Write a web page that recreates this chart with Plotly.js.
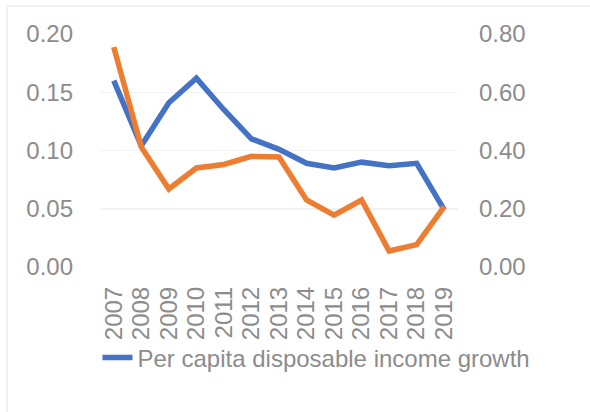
<!DOCTYPE html>
<html>
<head>
<meta charset="utf-8">
<script src="https://cdn.plot.ly/plotly-3.0.1.min.js"></script>
<style>html,body{margin:0;padding:0;background:#fff;}#chart{width:590px;height:412px;}</style>
</head>
<body>
<div id="chart"></div>
<script>
const years = ['2007','2008','2009','2010','2011','2012','2013','2014','2015','2016','2017','2018','2019'];
const incomeGrowth = [0.160, 0.104, 0.141, 0.162, 0.135, 0.110, 0.101, 0.089, 0.085, 0.090, 0.087, 0.089, 0.049];
const secondSeries = [0.755, 0.412, 0.268, 0.340, 0.352, 0.380, 0.378, 0.230, 0.178, 0.230, 0.055, 0.077, 0.207];
const leftTicks = [0, 0.05, 0.10, 0.15, 0.20];
const rightTicks = [0, 0.2, 0.4, 0.6, 0.8];

const gray = '#8c8c8c';
const tickFont = {family: 'Liberation Sans, Arial, sans-serif', size: 24, color: gray};

const traces = [
  {x: years, y: incomeGrowth, type: 'scatter', mode: 'lines', name: 'Per capita disposable income growth',
   line: {color: '#4472C4', width: 5.5}, yaxis: 'y'},
  {x: years, y: secondSeries, type: 'scatter', mode: 'lines', name: 'Second series', showlegend: false,
   line: {color: '#ED7D31', width: 5.5}, yaxis: 'y2'}
];

const layout = {
  width: 590, height: 412,
  margin: {l: 100, r: 132, t: 34, b: 145},
  paper_bgcolor: '#fff', plot_bgcolor: '#fff',
  showlegend: true,
  xaxis: {type: 'category', range: [-0.5, years.length - 0.5], tickmode: 'array', tickvals: years,
          ticktext: years, tickfont: tickFont, tickangle: -90,
          showgrid: false, zeroline: false, showline: false, ticks: '', ticklabelstandoff: 14},
  yaxis: {range: [0, 0.2], tickvals: leftTicks, tickformat: '.2f', tickfont: tickFont,
          gridcolor: '#f2f2f2', gridwidth: 1.5, zeroline: false, showline: false, ticks: '',
          ticklabelstandoff: 26},
  yaxis2: {range: [0, 0.8], tickvals: rightTicks, tickformat: '.2f', tickfont: tickFont,
           overlaying: 'y', side: 'right', showgrid: false, zeroline: false, showline: false,
           ticks: '', ticklabelstandoff: 20},
  legend: {orientation: 'h', x: -0.007, xanchor: 'left', y: -0.39, yanchor: 'middle',
           font: {family: 'Liberation Sans, Arial, sans-serif', size: 24, color: gray},
           bgcolor: 'rgba(0,0,0,0)'},
  shapes: [{type: 'rect', xref: 'paper', yref: 'paper', x0: -0.2598, x1: 1.4, y0: -0.7, y1: 1.1202,
            line: {color: '#ededed', width: 1.5}, fillcolor: 'rgba(0,0,0,0)', layer: 'below'}]
};

Plotly.newPlot('chart', traces, layout, {displayModeBar: false, staticPlot: true});
</script>
</body>
</html>
